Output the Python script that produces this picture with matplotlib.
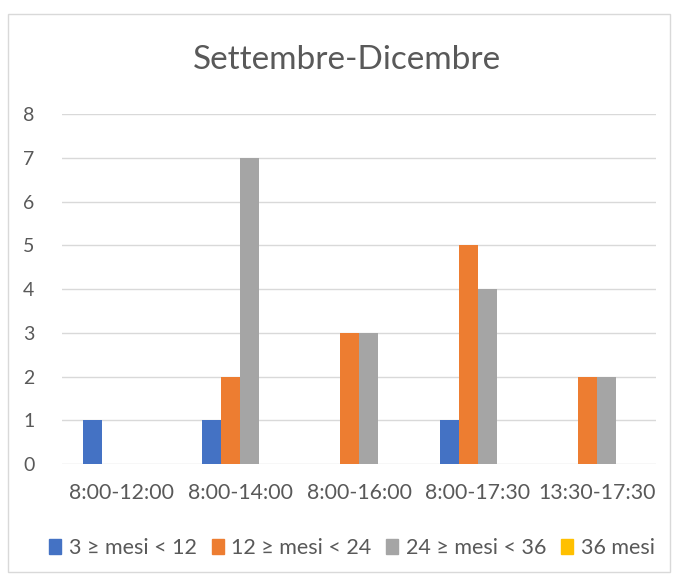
import matplotlib.pyplot as plt
import numpy as np
from matplotlib.patches import Rectangle

plt.rcParams['font.family'] = ['Lato', 'DejaVu Sans']

categories = ["8:00-12:00", "8:00-14:00", "8:00-16:00", "8:00-17:30", "13:30-17:30"]
series_names = ["3 \u2265 mesi < 12", "12 \u2265 mesi < 24", "24 \u2265 mesi < 36", "36 mesi"]
values = [
    [1, 1, 0, 1, 0],
    [0, 2, 3, 5, 2],
    [0, 7, 3, 4, 2],
    [0, 0, 0, 0, 0],
]
colors = ["#4472C4", "#ED7D31", "#A5A5A5", "#FFC000"]

fig = plt.figure(figsize=(6.74, 5.76), dpi=100)
ax = fig.add_axes([62 / 674, 1 - 464 / 576, 594 / 674, 350 / 576])

x = np.arange(len(categories))
w = 0.16
for i, vals in enumerate(values):
    ax.bar(x + (i - 1.5) * w, vals, width=w, color=colors[i], label=series_names[i], zorder=3)

ax.set_xlim(-0.5, len(categories) - 0.5)
ax.set_ylim(0, 8)
ax.set_yticks(range(0, 9))
ax.set_xticks(x)
ax.set_xticklabels(categories)
ax.tick_params(axis='both', length=0, colors="#595959")
ax.tick_params(axis='x', pad=14, labelsize=15.3)
ax.tick_params(axis='y', pad=24, labelsize=14)
for lab in ax.get_yticklabels():
    lab.set_horizontalalignment('center')
ax.grid(axis='y', color="#D9D9D9", linewidth=1, zorder=0)
for s in ax.spines.values():
    s.set_visible(False)

fig.text(347 / 674, 1 - 60 / 576, "Settembre-Dicembre", ha='center', va='center', fontsize=24, color="#595959")

handles = [Rectangle((0, 0), 1, 1, color=c) for c in colors]
fig.legend(handles, series_names, loc='center', bbox_to_anchor=(352 / 674, 1 - 548 / 576), ncol=4,
           frameon=False, fontsize=15.5, labelcolor="#595959", handlelength=0.55, handleheight=0.7,
           handletextpad=0.35, columnspacing=0.7)

fig.patches.append(Rectangle((8 / 674, 4 / 576), 662 / 674, 558 / 576, transform=fig.transFigure,
                             fill=False, edgecolor="#D9D9D9", linewidth=1))

fig.savefig("out.png", dpi=100)
